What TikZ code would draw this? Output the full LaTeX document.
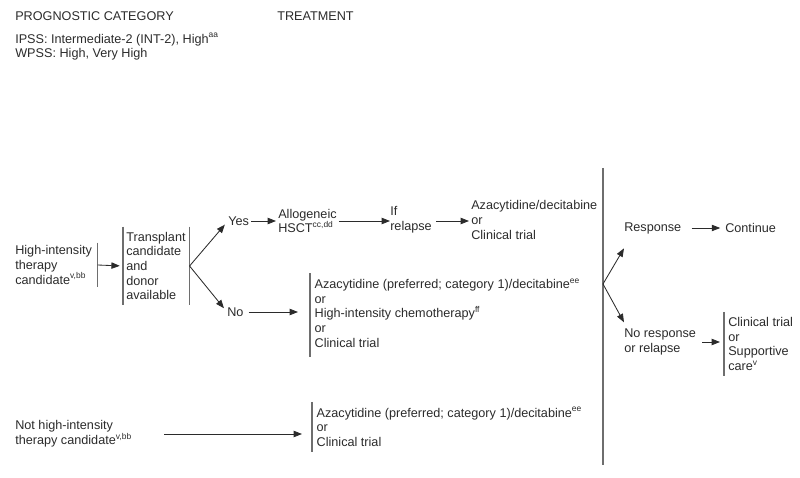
\documentclass[tikz,border=0pt]{standalone}
\usepackage{fontspec}
\setmainfont{Liberation Sans}
\usetikzlibrary{arrows.meta,calc}

\definecolor{inkc}{HTML}{2B2B2B}
\definecolor{barc}{HTML}{6E6E6E}

\tikzset{
	txt/.style={anchor=west, align=left, inner sep=0pt, text=inkc,
		font=\fontsize{9}{10.4}\selectfont},
	lbox/.style={txt, inner xsep=1.1mm, inner ysep=1.3mm},
	bar/.style={draw=barc, line width=0.75pt},
	arr/.style={->, draw=inkc, line width=0.6pt},
}

\begin{document}
\begin{tikzpicture}[x=0.25mm, y=-0.25mm, >={Triangle[length=2.1mm,width=1.6mm]}]
			
			\useasboundingbox (0,0) rectangle (800,478);
			
			% headings
			\node[txt] (cat)   at (15,16)  {PROGNOSTIC CATEGORY};
			\node[txt] (treat) at (277,16) {TREATMENT};
			\node[txt] (ipss)  at (15,47)
			{IPSS: Intermediate-2 (INT-2), High\textsuperscript{aa}\\WPSS: High, Very High};
			
			% high-intensity branch
			\node[txt, text width=20.5mm, minimum height=11mm] (hi) at (15,265)
			{High-intensity\\therapy\\candidate\textsuperscript{v,bb}};
			\node[txt, text width=15mm, inner xsep=0.75mm, minimum height=19.5mm] (tc) at (123,266)
			{Transplant\\candidate\\and\\donor\\available};
			\node[txt] (yes)  at (228,221) {Yes};
			\node[txt] (allo) at (278,221) {Allogeneic\\HSCT\textsuperscript{cc,dd}};
			\node[txt] (ifr)  at (390,220) {If\\relapse};
			\node[txt] (aza1) at (471,220) {Azacytidine/decitabine\\or\\Clinical trial};
			\node[txt] (no)   at (227,312) {No};
			\node[lbox] (noopt) at (310,313)
			{Azacytidine (preferred; category 1)/decitabine\textsuperscript{ee}\\or\\
				High-intensity chemotherapy\textsuperscript{ff}\\or\\Clinical trial};
			
			% not high-intensity branch
			\node[txt] (nhi) at (15,434)
			{Not high-intensity\\therapy candidate\textsuperscript{v,bb}};
			\node[lbox] (aza2) at (312,427)
			{Azacytidine (preferred; category 1)/decitabine\textsuperscript{ee}\\or\\Clinical trial};
			
			% response
			\coordinate (top) at (603,168);
			\coordinate (bot) at (603,465);
			\coordinate (br)  at (603,284);
			\node[txt] (resp) at (624,228) {Response};
			\node[txt] (cont) at (725,228) {Continue};
			\node[txt] (nore) at (624,342) {No response\\or relapse};
			\node[lbox, inner xsep=1mm] (ct) at (724,344)
			{Clinical trial\\or\\Supportive\\care\textsuperscript{v}};
			
			% bars
			\draw[bar] (hi.north east) -- (hi.south east);
			\draw[bar] (tc.north west) -- (tc.south west);
			\draw[bar] (tc.north east) -- (tc.south east);
			\draw[bar] (noopt.north west) -- ([yshift=-1mm]noopt.south west);
			\draw[bar] (aza2.north west) -- (aza2.south west);
			\draw[bar] (ct.north west) -- (ct.south west);
			\draw[bar] (top) -- (bot);
			
			% connectors
			\draw[arr, shorten >=0.8mm] (hi.east) -- (tc.west);
			\draw[arr, shorten >=1.2mm] (tc.east) -- (yes.west);
			\draw[arr, shorten >=1.2mm] (tc.east) -- (no.west);
			\draw[arr, shorten <=0.5mm, shorten >=0.5mm] (yes.east) -- (yes.east -| allo.west);
			\draw[arr, shorten <=0.5mm] (allo.east) -- (allo.east -| ifr.west);
			\draw[arr, shorten <=1mm, shorten >=0.5mm] ($(ifr.east)+(0,1)$) -- ($(ifr.east -| aza1.west)+(0,1)$);
			\draw[arr, shorten <=1.2mm, shorten >=3mm] (no.east) -- (no.east -| noopt.west);
			\draw[arr, shorten <=8mm, shorten >=2.5mm] (nhi.east) -- (nhi.east -| aza2.west);
			\draw[arr] (br) -- ([yshift=-3.6mm]resp.south west);
			\draw[arr] (br) -- ([yshift=1.6mm]nore.north west);
			\draw[arr, shorten <=2.5mm, shorten >=1.2mm] (resp.east) -- (cont.west);
			\draw[arr, shorten <=1.5mm, shorten >=1mm] (nore.east) -- (nore.east -| ct.west);
			
	\end{tikzpicture}
\end{document}
